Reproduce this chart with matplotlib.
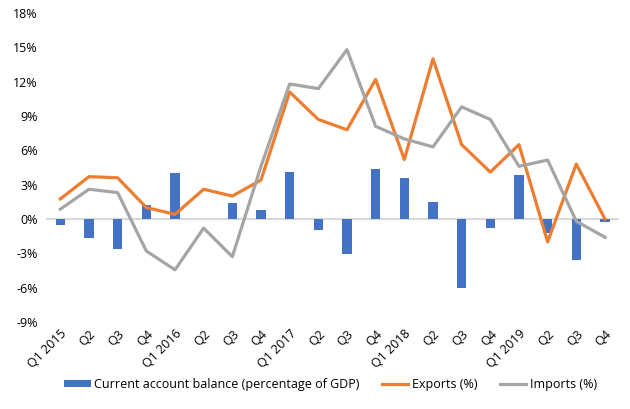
import numpy as np
import matplotlib.pyplot as plt
from matplotlib.ticker import FuncFormatter

quarters = ['Q1 2015', 'Q2', 'Q3', 'Q4', 'Q1 2016', 'Q2', 'Q3', 'Q4',
            'Q1 2017', 'Q2', 'Q3', 'Q4', 'Q1 2018', 'Q2', 'Q3', 'Q4',
            'Q1 2019', 'Q2', 'Q3', 'Q4']
current_account = [-0.5, -1.7, -2.6, 1.2, 4.0, 0.0, 1.4, 0.8,
                   4.1, -1.0, -3.1, 4.4, 3.6, 1.5, -6.0, -0.8,
                   3.8, -1.2, -3.6, -0.3]
exports = [1.75, 3.7, 3.6, 1.0, 0.4, 2.6, 2.0, 3.4,
           11.1, 8.7, 7.8, 12.2, 5.2, 14.0, 6.5, 4.1,
           6.5, -2.0, 4.8, 0.0]
imports = [0.85, 2.6, 2.3, -2.8, -4.45, -0.8, -3.3, 4.6,
           11.8, 11.4, 14.8, 8.1, 7.0, 6.3, 9.8, 8.7,
           4.6, 5.15, -0.2, -1.6]

plt.rcParams['font.family'] = ['Open Sans', 'DejaVu Sans']

fig = plt.figure(figsize=(6.3, 4.09), dpi=100)
ax = fig.add_axes([0.073, 0.213, 0.91, 0.755])

x = np.arange(len(quarters))
ax.axhline(0, color='#d9d9d9', lw=1.5, zorder=1)
bars = ax.bar(x, current_account, width=0.32, color='#4472C4', zorder=2,
              label='Current account balance (percentage of GDP)')
l1, = ax.plot(x, exports, color='#ED7D31', lw=2.3, zorder=3, label='Exports (%)')
l2, = ax.plot(x, imports, color='#A5A5A5', lw=2.3, zorder=3, label='Imports (%)')

ax.set_xlim(-0.5, len(quarters) - 0.5)
ax.set_ylim(-9, 18)
ax.set_yticks(np.arange(-9, 19, 3))
ax.yaxis.set_major_formatter(FuncFormatter(lambda v, p: f'{v:.0f}%'))
ax.set_xticks(x)
ax.set_xticklabels(quarters, rotation=45, ha='right', rotation_mode='anchor')
ax.tick_params(axis='both', length=0, labelsize=9, colors='black')
ax.tick_params(axis='x', pad=4)
ax.tick_params(axis='y', pad=6)
for s in ax.spines.values():
    s.set_visible(False)

fig.legend(handles=[bars, l1, l2], loc='center', bbox_to_anchor=(0.525, 0.06),
           ncol=3, frameon=False, fontsize=9, handlelength=2.1, handleheight=0.5,
           columnspacing=1.8, handletextpad=0.3)

fig.savefig('out.png', dpi=100)
